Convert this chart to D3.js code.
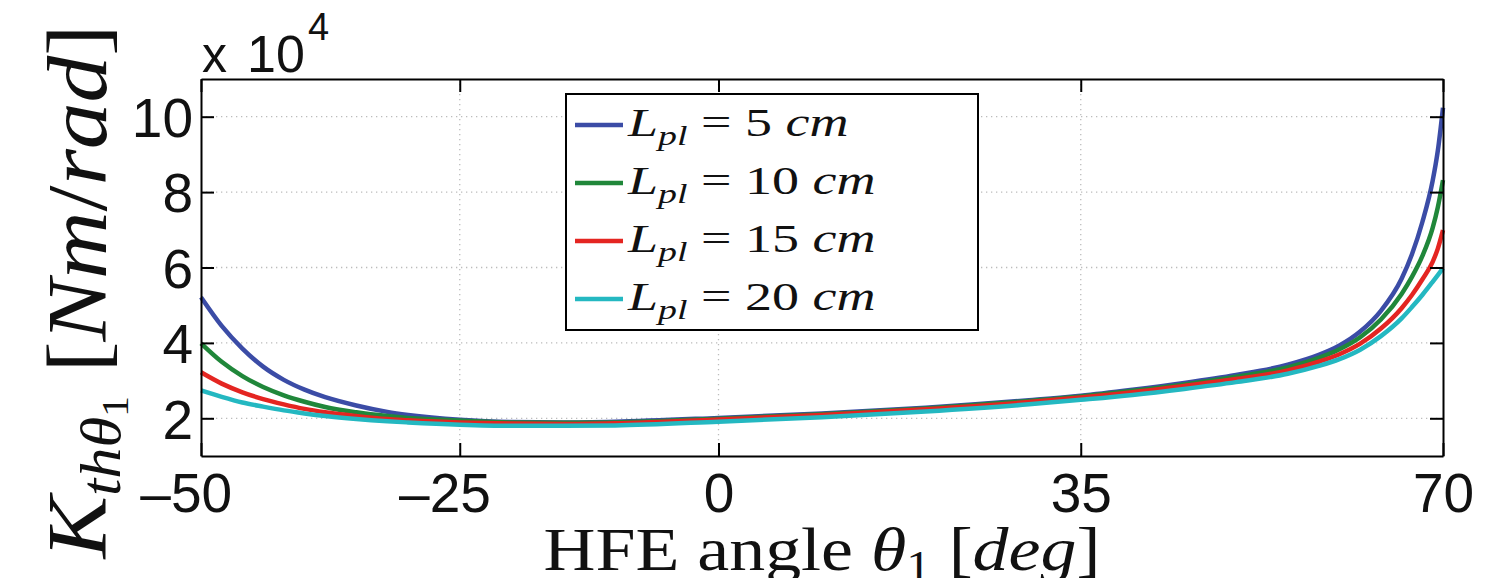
<!DOCTYPE html>
<html>
<head>
<meta charset="utf-8">
<script src="https://cdn.jsdelivr.net/npm/d3@7"></script>
<style>
  body { margin: 0; background: #fff; }
  svg { display: block; background: #fff; }
  .axis path, .axis line { stroke: #000; stroke-width: 2; }
  .axis text { font-family: "Liberation Sans", Arial, sans-serif; font-size: 55px; fill: #111; }
  .grid line { stroke: #bcbcbc; stroke-width: 1.3; stroke-dasharray: 1.3,3.7; }
  .math { font-family: "Liberation Serif", "DejaVu Serif", serif; fill: #111; white-space: pre; }
</style>
</head>
<body>
<svg id="chart"></svg>
<script>
// HFE angle samples (deg)
const angles = [-50, -48, -46, -44, -42, -40, -38, -35, -32, -30, -25, -20, -15, -10, 0, 10, 20, 30, 35, 40, 45, 50, 55, 58, 60, 62, 64, 66, 67, 68, 69, 69.5, 70];

// stiffness, x 10^4 Nm/rad
const kPl5  = [5.21, 4.45, 3.85, 3.37, 3.02, 2.76, 2.56, 2.34, 2.17, 2.09, 1.96, 1.90, 1.89, 1.91, 2.01, 2.13, 2.28, 2.48, 2.60, 2.76, 2.94, 3.15, 3.42, 3.68, 3.93, 4.30, 4.85, 5.70, 6.35, 7.20, 8.30, 9.10, 10.24];
const kPl10 = [3.99, 3.50, 3.12, 2.83, 2.61, 2.44, 2.30, 2.16, 2.06, 2.01, 1.94, 1.89, 1.88, 1.89, 1.99, 2.11, 2.26, 2.46, 2.58, 2.73, 2.90, 3.10, 3.35, 3.60, 3.83, 4.15, 4.62, 5.30, 5.75, 6.30, 7.05, 7.60, 8.32];
const kPl15 = [3.22, 2.92, 2.69, 2.51, 2.37, 2.25, 2.16, 2.06, 1.98, 1.95, 1.89, 1.86, 1.85, 1.87, 1.97, 2.09, 2.24, 2.43, 2.55, 2.69, 2.86, 3.04, 3.27, 3.50, 3.70, 3.98, 4.38, 4.92, 5.27, 5.68, 6.15, 6.50, 6.99];
const kPl20 = [2.74, 2.57, 2.42, 2.31, 2.21, 2.13, 2.06, 1.98, 1.92, 1.89, 1.83, 1.80, 1.80, 1.81, 1.91, 2.03, 2.18, 2.37, 2.49, 2.62, 2.78, 2.96, 3.18, 3.39, 3.57, 3.82, 4.18, 4.65, 4.95, 5.27, 5.62, 5.80, 5.98];

const plateLengths = ["5", "10", "15", "20"];
const xTicks = [-50, -25, 0, 35, 70];
const yTicks = [2, 4, 6, 8, 10];
const xDomain = [-50, 70];
const yDomain = [1, 11];

// append a list of text runs (tspans) to a text element
function addRuns(textSel, runs) {
    runs.forEach(r => {
        textSel.append('tspan')
            .attr('font-style', r.it ? 'italic' : 'normal')
            .attr('font-size', r.size || null)
            .attr('dy', r.dy || 0)
            .text(r.t);
    });
}

class StiffnessChart {

    constructor(_config, _data) {
        this.config = {
            parentElement: _config.parentElement,
            containerWidth: 1506,
            containerHeight: 578,
            margin: {top: 79, right: 63, bottom: 122, left: 201},
            colors: ['#3b4ca6', '#20873a', '#e42521', '#24b8c1'],
            tickLength: 13
        };
        this.data = _data;
        this.initVis();
    }

    initVis() {
        let vis = this;
        const m = vis.config.margin;

        vis.width = vis.config.containerWidth - m.left - m.right;
        vis.height = vis.config.containerHeight - m.top - m.bottom;

        vis.xScale = d3.scaleLinear().domain(xDomain).range([0, vis.width]);
        vis.yScale = d3.scaleLinear().domain(yDomain).range([vis.height, 0]);

        vis.svg = d3.select(vis.config.parentElement)
            .attr('width', vis.config.containerWidth)
            .attr('height', vis.config.containerHeight);

        vis.chart = vis.svg.append('g')
            .attr('transform', `translate(${m.left},${m.top})`);

        vis.renderVis();
    }

    renderVis() {
        let vis = this;
        const tl = vis.config.tickLength;
        const fmt = d => d < 0 ? '\u2013' + Math.abs(d) : String(d);

        // dotted grid
        const grid = vis.chart.append('g').attr('class', 'grid');
        grid.selectAll('.gx')
            .data(xTicks.filter(d => d > xDomain[0] && d < xDomain[1]))
            .join('line')
            .attr('x1', d => vis.xScale(d)).attr('x2', d => vis.xScale(d))
            .attr('y1', 0).attr('y2', vis.height);
        grid.selectAll('.gy')
            .data(yTicks)
            .join('line')
            .attr('x1', 0).attr('x2', vis.width)
            .attr('y1', d => vis.yScale(d)).attr('y2', d => vis.yScale(d));

        // curves
        const line = d3.line()
            .x((d, i) => vis.xScale(angles[i]))
            .y(d => vis.yScale(d))
            .curve(d3.curveMonotoneX);

        vis.chart.selectAll('.curve')
            .data(vis.data)
            .join('path')
            .attr('class', 'curve')
            .attr('fill', 'none')
            .attr('stroke', (d, i) => vis.config.colors[i])
            .attr('stroke-width', 4.5)
            .attr('d', line);

        // axes, ticks pointing inward on all four sides
        vis.xAxisG = vis.chart.append('g')
            .attr('class', 'axis')
            .attr('transform', `translate(0,${vis.height})`)
            .call(d3.axisBottom(vis.xScale).tickValues(xTicks).tickFormat(fmt)
                .tickSizeInner(-tl).tickSizeOuter(0).tickPadding(17));

        // keep the digits centred on the tick, minus sign hanging left
        vis.xAxisG.selectAll('.tick text').each(function(d) {
            if (d < 0) {
                const t = d3.select(this);
                const full = this.getComputedTextLength();
                t.text(Math.abs(d));
                const dw = this.getComputedTextLength();
                t.text(fmt(d));
                t.attr('x', -(full - dw) / 2);
            }
        });

        vis.chart.append('g')
            .attr('class', 'axis')
            .call(d3.axisLeft(vis.yScale).tickValues(yTicks)
                .tickSizeInner(-tl).tickSizeOuter(0).tickPadding(8))
            .selectAll('.tick text').attr('dy', '0.36em');

        vis.chart.append('g')
            .attr('class', 'axis')
            .call(d3.axisTop(vis.xScale).tickValues(xTicks).tickFormat('')
                .tickSizeInner(-tl).tickSizeOuter(0));

        vis.chart.append('g')
            .attr('class', 'axis')
            .attr('transform', `translate(${vis.width},0)`)
            .call(d3.axisRight(vis.yScale).tickValues(yTicks).tickFormat('')
                .tickSizeInner(-tl).tickSizeOuter(0));

        // exponent label
        const sans = '"Liberation Sans", Arial, sans-serif';
        vis.svg.append('text')
            .attr('x', 202).attr('y', 72)
            .attr('font-family', sans).attr('font-size', 50).attr('fill', '#111')
            .text('x');
        vis.svg.append('text')
            .attr('x', 247).attr('y', 72)
            .attr('font-family', sans).attr('font-size', 52).attr('fill', '#111')
            .text('10');
        vis.svg.append('text')
            .attr('x', 308).attr('y', 40)
            .attr('font-family', sans).attr('font-size', 38).attr('fill', '#111')
            .text('4');

        // legend
        const lg = vis.svg.append('g').attr('class', 'legend');
        lg.append('rect')
            .attr('x', 566).attr('y', 94)
            .attr('width', 412).attr('height', 236)
            .attr('fill', '#fff').attr('stroke', '#000').attr('stroke-width', 2);

        let sx = 1;
        plateLengths.forEach((v, i) => {
            const yRow = 125 + i * 58;
            lg.append('line')
                .attr('x1', 575).attr('x2', 623)
                .attr('y1', yRow).attr('y2', yRow)
                .attr('stroke', vis.config.colors[i]).attr('stroke-width', 4.5);
            const t = lg.append('text')
                .attr('class', 'math')
                .attr('font-size', 40);
            addRuns(t, [
                {t: 'L', it: true},
                {t: 'pl', it: true, size: 28, dy: 9},
                {t: ' = ', dy: -9},
                {t: v + ' '},
                {t: 'cm', it: true}
            ]);
            if (i === 0) sx = 222 / t.node().getBBox().width;
            t.attr('transform', `translate(628,${yRow + 11}) scale(${sx},1)`);
        });

        // axis titles
        const xl = vis.svg.append('text').attr('class', 'math').attr('font-size', 62);
        addRuns(xl, [
            {t: 'HFE angle '},
            {t: '\u03b8', it: true},
            {t: '1', size: 42, dy: 10},
            {t: ' [', dy: -10},
            {t: 'deg', it: true},
            {t: ']'}
        ]);
        const xb = xl.node().getBBox();
        const xs = 557 / xb.width;
        xl.attr('transform', `translate(822,570) scale(${xs},1) translate(${-xb.x - xb.width / 2},0)`);

        const yl = vis.svg.append('text').attr('class', 'math').attr('font-size', 84);
        addRuns(yl, [
            {t: 'K', it: true},
            {t: 'th\u03b8', it: true, size: 56, dy: 14},
            {t: '1', size: 38, dy: 8},
            {t: ' [', dy: -22},
            {t: 'Nm', it: true},
            {t: '/'},
            {t: 'rad', it: true},
            {t: ']'}
        ]);
        const yb = yl.node().getBBox();
        const ys = 535 / yb.width;
        yl.attr('transform', `translate(106,292) rotate(-90) scale(${ys},1) translate(${-yb.x - yb.width / 2},0)`);
    }
}

new StiffnessChart({parentElement: '#chart'}, [kPl5, kPl10, kPl15, kPl20]);
</script>
</body>
</html>
